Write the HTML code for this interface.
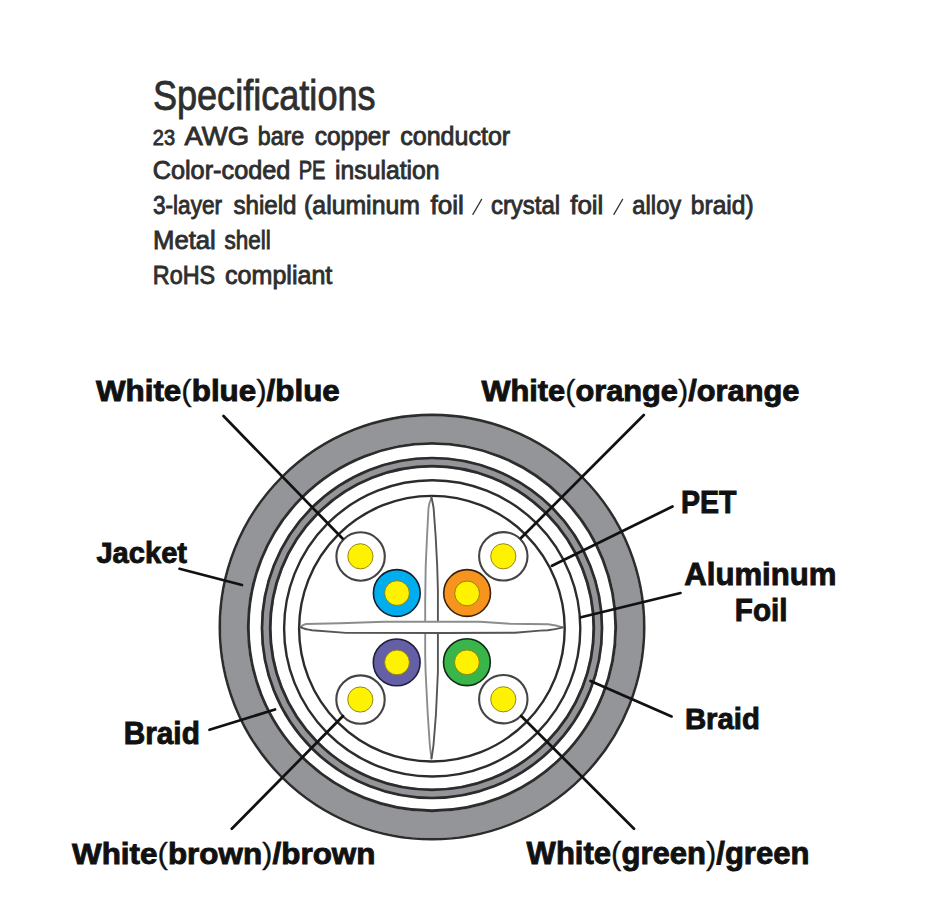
<!DOCTYPE html>
<html><head><meta charset="utf-8">
<style>
html,body{margin:0;padding:0;background:#fff;width:950px;height:903px;overflow:hidden}
#w{position:absolute;left:0;top:0;width:950px;height:903px}
svg{position:absolute;left:0;top:0}
.spec{font-family:"Liberation Sans",sans-serif;fill:#2e2e2e;stroke:#2e2e2e;stroke-width:0.85px}
.pr{font-weight:normal;stroke-width:0.3px}
.lbl{font-family:"Liberation Sans",sans-serif;font-weight:bold;fill:#111;stroke:#111;stroke-width:0.9px}
</style></head>
<body>
<div id="w">
<svg width="950" height="903" viewBox="0 0 950 903">
<!-- header text -->
<text class="spec" x="152.9" y="110.2" font-size="42.5" textLength="222.69" style="stroke-width:0.8px" lengthAdjust="spacingAndGlyphs">Specifications</text>
<text class="spec" x="152.8" y="145.2" font-size="21.5" textLength="22.24" lengthAdjust="spacingAndGlyphs">23</text>
<text class="spec" x="184.52" y="145.2" font-size="25" textLength="64.56" lengthAdjust="spacingAndGlyphs">AWG</text>
<text class="spec" x="257.72" y="145.2" font-size="25" textLength="46.5" lengthAdjust="spacingAndGlyphs">bare</text>
<text class="spec" x="314.73" y="145.2" font-size="25" textLength="74.9" lengthAdjust="spacingAndGlyphs">copper</text>
<text class="spec" x="400.25" y="145.2" font-size="25" textLength="109.91" lengthAdjust="spacingAndGlyphs">conductor</text>
<text class="spec" x="152.71" y="179.2" font-size="25" textLength="137.67" lengthAdjust="spacingAndGlyphs">Color-coded</text>
<text class="spec" x="298.68" y="179.2" font-size="25" textLength="26.77" lengthAdjust="spacingAndGlyphs">PE</text>
<text class="spec" x="335.12" y="179.2" font-size="25" textLength="104.44" lengthAdjust="spacingAndGlyphs">insulation</text>
<text class="spec" x="153.0" y="214.2" font-size="25" textLength="69.08" lengthAdjust="spacingAndGlyphs">3-layer</text>
<text class="spec" x="233.44" y="214.2" font-size="25" textLength="63.13" lengthAdjust="spacingAndGlyphs">shield</text>
<text class="spec" x="304.1" y="214.2" font-size="25" textLength="115.8" lengthAdjust="spacingAndGlyphs">(aluminum</text>
<text class="spec" x="430.52" y="214.2" font-size="25" textLength="33.37" lengthAdjust="spacingAndGlyphs">foil</text>
<text class="spec" x="490.91" y="214.2" font-size="25" textLength="69.2" lengthAdjust="spacingAndGlyphs">crystal</text>
<text class="spec" x="570.23" y="214.2" font-size="25" textLength="33.18" lengthAdjust="spacingAndGlyphs">foil</text>
<text class="spec" x="632.37" y="214.2" font-size="25" textLength="48.87" lengthAdjust="spacingAndGlyphs">alloy</text>
<text class="spec" x="690.8" y="214.2" font-size="25" textLength="62.81" lengthAdjust="spacingAndGlyphs">braid)</text>
<text class="spec" x="153.0" y="249.0" font-size="25" textLength="62.83" lengthAdjust="spacingAndGlyphs">Metal</text>
<text class="spec" x="224.45" y="249.0" font-size="25" textLength="46.25" lengthAdjust="spacingAndGlyphs">shell</text>
<text class="spec" x="152.74" y="283.9" font-size="25" textLength="62.41" lengthAdjust="spacingAndGlyphs">RoHS</text>
<text class="spec" x="225.04" y="283.9" font-size="25" textLength="107.28" lengthAdjust="spacingAndGlyphs">compliant</text>

<g stroke="#333" stroke-width="1.25" stroke-linecap="round">
  <line x1="481.6" y1="199.4" x2="472.9" y2="214.4"/>
  <line x1="622.6" y1="199.4" x2="613.9" y2="214.4"/>
</g>
<!-- cable -->
<g stroke="#2c2c2c" fill="none">
  <circle cx="432" cy="627.1" r="198" stroke="#939598" stroke-width="26"/>
  <circle cx="432" cy="627.1" r="212.2" stroke-width="2.6"/>
  <circle cx="432" cy="627.1" r="183.7" stroke-width="2.9"/>
  <circle cx="432" cy="628" r="165.8" stroke="#939598" stroke-width="10.6"/>
  <circle cx="432" cy="628" r="170" stroke-width="2.7"/>
  <circle cx="432" cy="628" r="161.8" stroke-width="2.8"/>
  <circle cx="432.2" cy="628.4" r="148.1" stroke-width="2.4"/>
  <circle cx="431.9" cy="628.7" r="132.8" stroke-width="2.4"/>
</g>
<!-- cross separator -->
<g fill="none" stroke-width="1.9" stroke-linejoin="round" stroke-linecap="round">
  <path fill="#fff" stroke="none" d="M431.5 497.5 C430 501 428.8 505 428.5 508 L427 537 L425.7 566 L425 600 L425 656 L425.6 672 L427.8 715 L429.8 745 C430.5 751 431 755 431.5 758.5 C432 755 432.8 751 433.5 745 L435.9 715 L438.2 672 L438.2 600 L437.9 590 L437.2 566 L435.7 537 L433.6 508 C433 504 432.3 501 431.5 497.5 Z"/>
  <path stroke="#8c8c8c" d="M431.5 497.5 C430 501 428.8 505 428.5 508 L427 537 L425.7 566 L425.2 600 L425.2 656 L425.6 672 L427.8 715 L429.8 745 C430.5 751 431 755 431.5 758.5"/>
  <path stroke="#555" d="M431.5 497.5 C432.3 501 433 504 433.6 508 L435.7 537 L437.2 566 L437.9 590 L437.9 600 L437.9 672 L435.9 715 L433.5 745 C432.8 751 432 755 431.5 758.5"/>
  <path fill="#fff" stroke="none" d="M300.5 627.2 C302 625.5 303.5 624.5 306 624 L340 623.2 L384 621.6 L480 621.8 L510 623.8 L548 624.2 C556 625 559 626 562.8 627.4 C559 628.5 556 629.5 548 630.2 L540 630.6 L515 632.8 L444 633 L346 632.9 L312 630.2 C306 629.5 303 628.5 300.5 627.2 Z"/>
  <path stroke="#8c8c8c" d="M300.5 627.2 C302 625.5 303.5 624.5 306 624 L340 623.2 L384 621.7 L480 621.8 L510 623.8 L548 624.2 C556 625 559 626 562.8 627.4"/>
  <path stroke="#555" d="M300.5 627.2 C303 628.5 306 629.5 312 630.2 L346 632.9 L444 633 L515 632.8 L540 630.6 L548 630.2 C556 629.5 559 628.5 562.8 627.4"/>
</g>
<!-- wires -->
<g stroke-width="1.8">
  <circle cx="360.6" cy="556.5" r="24.2" fill="#fff" stroke="#444" stroke-width="2.1"/>
  <circle cx="503.3" cy="556.3" r="24.2" fill="#fff" stroke="#444" stroke-width="2.1"/>
  <circle cx="360.5" cy="699.6" r="24.2" fill="#fff" stroke="#444" stroke-width="2.1"/>
  <circle cx="503.3" cy="699.2" r="24.2" fill="#fff" stroke="#444" stroke-width="2.1"/>
  <circle cx="396.8" cy="593" r="23.4" fill="#00aeef" stroke="#102030" stroke-width="1.6"/>
  <circle cx="467.1" cy="593" r="23.4" fill="#f7941d" stroke="#3a2410" stroke-width="1.6"/>
  <circle cx="396.7" cy="662.4" r="23.4" fill="#6560a6" stroke="#221e40" stroke-width="1.6"/>
  <circle cx="466.9" cy="662.2" r="23.4" fill="#39b54a" stroke="#102a14" stroke-width="1.6"/>
</g>
<g fill="#fff200" stroke="#8a7a10" stroke-width="0.9">
  <circle cx="360.4" cy="556.3" r="12.6"/>
  <circle cx="503.3" cy="556.3" r="12.6"/>
  <circle cx="360.3" cy="699.5" r="12.6"/>
  <circle cx="503.3" cy="699.3" r="12.6"/>
  <circle cx="397" cy="593.1" r="12.4"/>
  <circle cx="467.1" cy="593.4" r="12.4"/>
  <circle cx="397" cy="662.4" r="12.4"/>
  <circle cx="466.9" cy="662.3" r="12.4"/>
</g>
<!-- leader lines -->
<g stroke="#111" stroke-width="2.7" stroke-linecap="round" fill="none">
  <line x1="223.5" y1="416" x2="342.5" y2="538.5"/>
  <line x1="643.8" y1="415" x2="521" y2="538"/>
  <line x1="672.5" y1="506.5" x2="552" y2="565.8"/>
  <line x1="680.5" y1="593" x2="581" y2="617.3"/>
  <line x1="179.5" y1="568.8" x2="242" y2="585"/>
  <line x1="209.5" y1="729.8" x2="275" y2="709.5"/>
  <line x1="590.5" y1="681" x2="671.6" y2="716.4"/>
  <line x1="343" y1="716" x2="231.8" y2="828.8"/>
  <line x1="521.2" y1="716" x2="634" y2="828.8"/>
</g>
<!-- labels -->
<text class="lbl" x="95.98" y="401.25" font-size="29.1" textLength="243.8" lengthAdjust="spacingAndGlyphs">White<tspan class="pr">(</tspan>blue<tspan class="pr">)</tspan>/blue</text>
<text class="lbl" x="481.4" y="401.25" font-size="29.1" textLength="317.99" lengthAdjust="spacingAndGlyphs">White<tspan class="pr">(</tspan>orange<tspan class="pr">)</tspan>/orange</text>
<text class="lbl" x="680.94" y="513.15" font-size="31.1" textLength="55.51" lengthAdjust="spacingAndGlyphs">PET</text>
<text class="lbl" x="684.36" y="584.75" font-size="30.7" textLength="152.04" lengthAdjust="spacingAndGlyphs">Aluminum</text>
<text class="lbl" x="734.86" y="620.95" font-size="30.7" textLength="52.64" lengthAdjust="spacingAndGlyphs">Foil</text>
<text class="lbl" x="96.4" y="562.55" font-size="30.0" textLength="90.67" lengthAdjust="spacingAndGlyphs">Jacket</text>
<text class="lbl" x="123.7" y="743.95" font-size="30.5" textLength="76.15" lengthAdjust="spacingAndGlyphs">Braid</text>
<text class="lbl" x="684.89" y="729.45" font-size="29.5" textLength="75.01" lengthAdjust="spacingAndGlyphs">Braid</text>
<text class="lbl" x="72.03" y="863.75" font-size="29.9" textLength="303.4" lengthAdjust="spacingAndGlyphs">White<tspan class="pr">(</tspan>brown<tspan class="pr">)</tspan>/brown</text>
<text class="lbl" x="526.6" y="863.85" font-size="31.1" textLength="282.83" lengthAdjust="spacingAndGlyphs">White<tspan class="pr">(</tspan>green<tspan class="pr">)</tspan>/green</text>
</svg>
</div>
</body></html>
